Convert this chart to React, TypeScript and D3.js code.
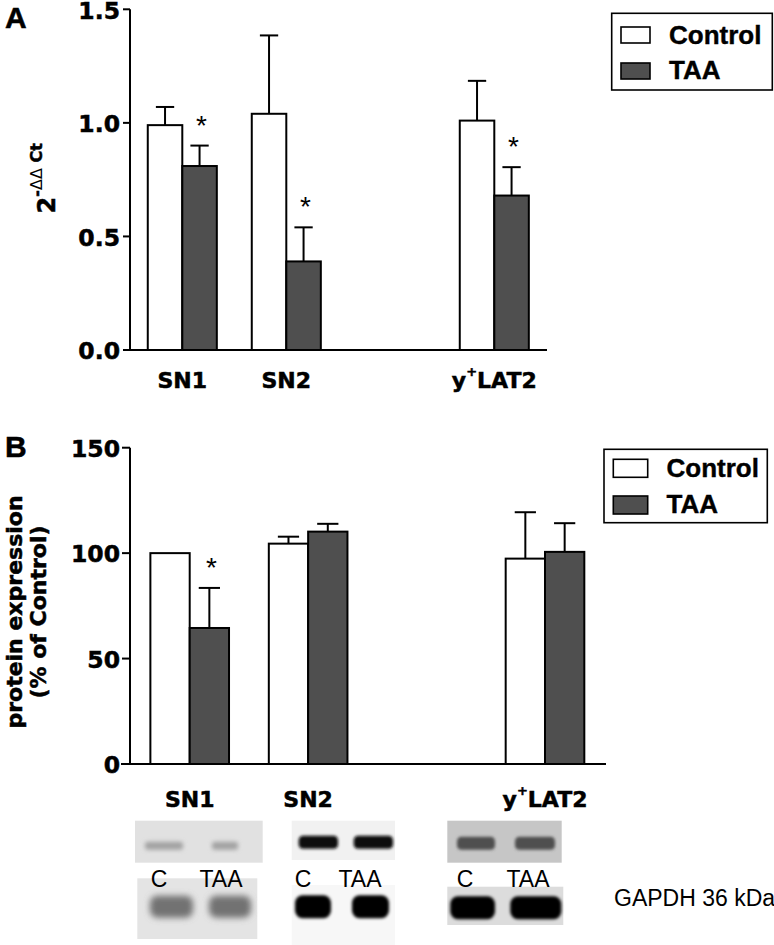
import React from "react";
import * as d3 from "d3";

// ---------- data ----------
const categories = ["SN1", "SN2", "y+LAT2"];
const slots = ["SN1", "SN2", "gap", "y+LAT2"];
const seriesNames = ["Control", "TAA"];

const mrnaControl = [0.99, 1.04, 1.01];
const mrnaControlErr = [0.08, 0.345, 0.175];
const mrnaTAA = [0.81, 0.39, 0.68];
const mrnaTAAErr = [0.09, 0.15, 0.125];
const mrnaTAASig = [true, true, true];

const protControl = [100, 104.5, 97.4];
const protControlErr = [0, 3.3, 22];
const protTAA = [64.5, 110.2, 100.6];
const protTAAErr = [19, 3.7, 13.6];
const protTAASig = [true, false, false];

const mrnaTicks = [0, 0.5, 1.0, 1.5];
const protTicks = [0, 50, 100, 150];

const blotLaneLabels = ["C", "TAA"];
const gapdhLabel = "GAPDH 36 kDa";

const FILL_TAA = "#4f4f4f";
const AXIS_FONT = "'DejaVu Sans', sans-serif";
const ARIAL = "'Liberation Sans', Arial, sans-serif";
const HEAVY = { stroke: "#000", strokeWidth: 0.5 };

function CatLabel({ name, x, y }: { name: string; x: number; y: number }) {
  if (name.startsWith("y+")) {
    return (
      <text x={x} y={y} textAnchor="middle" fontFamily={AXIS_FONT} fontWeight="bold" fontSize={22} {...HEAVY}>
        <tspan>y</tspan>
        <tspan dy={-12} fontSize={13}>+</tspan>
        <tspan dy={12}>{name.slice(2)}</tspan>
      </text>
    );
  }
  return (
    <text x={x} y={y} textAnchor="middle" fontFamily={AXIS_FONT} fontWeight="bold" fontSize={22} {...HEAVY}>
      {name}
    </text>
  );
}

function Panel(props: any) {
  const { y, x, ctrl, ctrlErr, taa, taaErr, sig, ticks, fmt, axisLeft, axisRight, tickLen, labelY, capRatio } = props;
  const step = x.step();
  const bw = step * 0.332;
  const capW = bw * capRatio;
  const y0 = y(0);
  const yTop = y(ticks[ticks.length - 1]);
  const axisX = 130;
  const bars: any[] = [];
  categories.forEach((c, i) => {
    const cx = x(c);
    const groups = [
      { v: ctrl[i], e: ctrlErr[i], fill: "#ffffff", x0: cx - bw, s: false },
      { v: taa[i], e: taaErr[i], fill: FILL_TAA, x0: cx, s: sig[i] },
    ];
    groups.forEach((g, j) => {
      const mid = g.x0 + bw / 2;
      bars.push(
        <g key={c + j}>
          {g.e > 0 && (
            <g stroke="#000" strokeWidth={2}>
              <line x1={mid} x2={mid} y1={y(g.v)} y2={y(g.v + g.e)} />
              <line x1={mid - capW / 2} x2={mid + capW / 2} y1={y(g.v + g.e)} y2={y(g.v + g.e)} />
            </g>
          )}
          <rect x={g.x0} y={y(g.v)} width={bw} height={y0 - y(g.v)} fill={g.fill} stroke="#000" strokeWidth={2} />
          {g.s && (
            <text x={mid + 2} y={y(g.v + g.e) - 27 + 16} textAnchor="middle" fontFamily={ARIAL} fontSize={28}>
              *
            </text>
          )}
        </g>
      );
    });
  });
  return (
    <g>
      {bars}
      <line x1={axisX} x2={axisX} y1={yTop} y2={y0} stroke="#000" strokeWidth={2} />
      <line x1={axisLeft} x2={axisRight} y1={y0} y2={y0} stroke="#000" strokeWidth={2} />
      {ticks.map((t: number) => (
        <g key={t}>
          <line x1={axisX - tickLen} x2={axisX} y1={y(t)} y2={y(t)} stroke="#000" strokeWidth={2} />
          <text x={120} y={y(t) + 9.2} textAnchor="end" fontFamily={AXIS_FONT} fontWeight="bold" fontSize={23.5} {...HEAVY}>
            {fmt(t)}
          </text>
        </g>
      ))}
      {categories.map((c) => (
        <CatLabel key={c} name={c} x={x(c)} y={labelY} />
      ))}
    </g>
  );
}

function Legend(props: any) {
  const { bx, by, bw, bh, sx, sw, sh, sy, tx, ty } = props;
  const fills = ["#ffffff", FILL_TAA];
  return (
    <g>
      <rect x={bx} y={by} width={bw} height={bh} fill="#fff" stroke="#000" strokeWidth={1.6} />
      {seriesNames.map((n, i) => (
        <g key={n}>
          <rect x={sx} y={sy[i]} width={sw} height={sh} fill={fills[i]} stroke="#000" strokeWidth={1.6} />
          <text x={tx} y={ty[i]} fontFamily={ARIAL} fontWeight="bold" fontSize={26} stroke="#000" strokeWidth={0.4}>
            {n}
          </text>
        </g>
      ))}
    </g>
  );
}

// Blot images (layout of the photographed membranes)
const blots = [
  { x0: 135, x1: 262.7, y0: 820.7, y1: 862.7, bg: "#e1e1e1", band: "#a2a2a2", cy: 845.7, h: 8, lanes: [[143, 185], [210, 240]], blur: 2 },
  { x0: 137.3, x1: 257.3, y0: 878.3, y1: 939, bg: "#e4e4e4", band: "#727272", cy: 906.7, h: 22, lanes: [[148, 195], [207, 253]], blur: 3 },
  { x0: 291.7, x1: 395, y0: 820.7, y1: 860, bg: "#f1f1f1", band: "#0c0c0c", cy: 842.3, h: 13, lanes: [[296.7, 340], [351.7, 395]], blur: 1.5 },
  { x0: 291.7, x1: 395, y0: 885, y1: 945, bg: "#f7f7f7", band: "#050505", cy: 906.7, h: 23, lanes: [[293, 333], [350, 391]], blur: 1.8 },
  { x0: 447.3, x1: 561.7, y0: 820.7, y1: 862.7, bg: "#c6c6c6", band: "#505050", cy: 843.3, h: 13, lanes: [[455, 497], [513, 557]], blur: 1.5 },
  { x0: 447.3, x1: 563.3, y0: 886.7, y1: 925, bg: "#dcdcdc", band: "#050505", cy: 907.7, h: 23, lanes: [[448.3, 497], [508.3, 563.3]], blur: 1.5 },
];
const laneLabelX = [
  [159, 221],
  [303, 360],
  [465, 528],
];

export default function App() {
  const xA = d3.scalePoint<string>().domain(slots).range([182.3, 494.3]);
  const yA = d3.scaleLinear().domain([0, 1.5]).range([350, 9.3]);
  const xB = d3.scalePoint<string>().domain(slots).range([189.7, 545]);
  const yB = d3.scaleLinear().domain([0, 150]).range([764, 447.7]);

  return (
    <svg width={774} height={945} style={{ position: "absolute", left: 0, top: 0, background: "#fff" }}>
      <defs>
        {[1.5, 1.8, 2, 3].map((b) => (
          <filter key={b} id={"blur" + String(b).replace(".", "_")} x="-30%" y="-80%" width="160%" height="260%">
            <feGaussianBlur stdDeviation={b} />
          </filter>
        ))}
        <clipPath id="pageclip">
          <rect x={0} y={0} width={774} height={945} />
        </clipPath>
      </defs>
      <rect x={0} y={0} width={774} height={945} fill="#fff" />

      {/* Panel A */}
      <text x={5} y={28.3} fontFamily={ARIAL} fontWeight="bold" fontSize={30} {...HEAVY}>A</text>
      <text transform="translate(55,178.3) rotate(-90)" textAnchor="middle" fontFamily={AXIS_FONT} fontWeight="bold" fontSize={24} {...HEAVY}>
        <tspan>2</tspan>
        <tspan dy={-13} fontSize={16}>-</tspan>
        <tspan fontSize={16} fontWeight="normal" strokeWidth={0}>ΔΔ</tspan>
        <tspan fontSize={16}> Ct</tspan>
      </text>
      <Panel
        y={yA}
        x={xA}
        ctrl={mrnaControl}
        ctrlErr={mrnaControlErr}
        taa={mrnaTAA}
        taaErr={mrnaTAAErr}
        sig={mrnaTAASig}
        ticks={mrnaTicks}
        fmt={d3.format(".1f")}
        axisLeft={123}
        axisRight={547}
        tickLen={7}
        labelY={388.3}
        capRatio={0.53}
      />
      <Legend bx={611.7} by={13.3} bw={160.6} bh={76.7} sx={621} sw={29} sh={16} sy={[27, 63]} tx={669} ty={[43.5, 79.3]} />

      {/* Panel B */}
      <text x={5} y={457} fontFamily={ARIAL} fontWeight="bold" fontSize={30} {...HEAVY}>B</text>
      <text transform="translate(22,612) rotate(-90)" textAnchor="middle" fontFamily={AXIS_FONT} fontWeight="bold" fontSize={22} {...HEAVY}>
        protein expression
      </text>
      <text transform="translate(46,612) rotate(-90)" textAnchor="middle" fontFamily={AXIS_FONT} fontWeight="bold" fontSize={22} {...HEAVY}>
        (% of Control)
      </text>
      <Panel
        y={yB}
        x={xB}
        ctrl={protControl}
        ctrlErr={protControlErr}
        taa={protTAA}
        taaErr={protTAAErr}
        sig={protTAASig}
        ticks={protTicks}
        fmt={d3.format("d")}
        axisLeft={121}
        axisRight={606}
        tickLen={8}
        labelY={806.7}
        capRatio={0.54}
      />
      <Legend bx={604} by={449.3} bw={163.3} bh={73.4} sx={613.3} sw={34.4} sh={18} sy={[459.3, 496]} tx={666.5} ty={[476.7, 513.3]} />

      {/* Blots */}
      <g clipPath="url(#pageclip)">
        {blots.map((b, i) => (
          <g key={i}>
            <rect x={b.x0} y={b.y0} width={b.x1 - b.x0} height={b.y1 - b.y0} fill={b.bg} />
            <g filter={`url(#blur${String(b.blur).replace(".", "_")})`}>
              {b.lanes.map((l, j) => (
                <rect key={j} x={l[0] + 2} y={b.cy - b.h / 2} width={l[1] - l[0] - 4} height={b.h} rx={b.h / 3} fill={b.band} />
              ))}
            </g>
          </g>
        ))}
      </g>
      {laneLabelX.map((xs, i) =>
        xs.map((lx, j) => (
          <text key={i + "-" + j} x={lx} y={886.5} textAnchor="middle" fontFamily={ARIAL} fontSize={23}>
            {blotLaneLabels[j]}
          </text>
        ))
      )}
      <text x={614} y={905.7} fontFamily={ARIAL} fontSize={23}>
        {gapdhLabel}
      </text>
    </svg>
  );
}
